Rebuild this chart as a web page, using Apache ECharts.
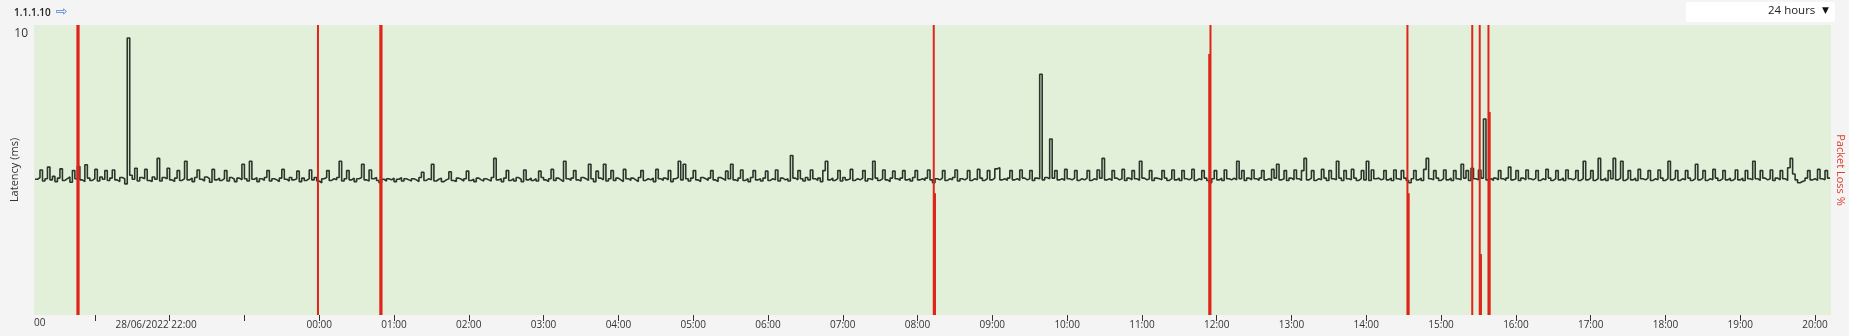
<!DOCTYPE html>
<html>
<head>
<meta charset="utf-8">
<script src="https://cdn.jsdelivr.net/npm/echarts@6/dist/echarts.min.js"></script>
<style>
html,body{margin:0;padding:0;background:#f4f4f4;}
#c{width:1849px;height:336px;}
</style>
</head>
<body>
<div id="c"></div>
<script>
// ---- data ----
const title = '1.1.1.10';
const rangeLabel = '24 hours';
const axisStart = '2022-06-28T20:12:00';
const axisEnd = '2022-06-29T20:12:00';
const sampleStepMinutes = 2;
// latency (ms), one value every 2 minutes from 28/06 20:12 (one row = one hour)
const latency = [
4.68,4.74,5.00,4.62,4.70,5.10,4.66,4.78,4.60,4.72,5.04,4.64,4.70,4.76,4.58,4.98,4.70,5.12,4.66,4.60,5.18,4.72,4.64,4.70,5.02,4.62,4.76,4.68,4.98,4.64,
4.72,5.00,4.66,4.60,4.74,4.70,4.52,9.55,4.82,4.68,5.06,4.62,4.74,4.70,5.02,4.64,4.60,4.76,4.68,5.40,4.62,4.74,4.70,5.06,4.66,4.60,4.72,4.98,4.64,4.70,
5.30,4.66,4.72,4.60,4.74,5.00,4.68,4.62,4.76,4.70,4.58,5.02,4.66,4.72,4.64,4.70,4.98,4.62,4.74,4.68,4.60,4.72,4.66,5.20,4.70,4.62,5.30,4.68,4.74,4.60,
4.70,4.64,4.74,4.98,4.62,4.70,4.66,4.60,4.72,5.02,4.68,4.62,4.74,4.66,4.70,4.96,4.60,4.72,4.64,4.70,5.00,4.66,4.74,4.62,4.56,4.70,4.74,4.98,4.64,4.70,
4.66,4.74,5.30,4.62,4.70,4.98,4.66,4.72,4.60,4.70,4.74,5.20,4.66,4.62,5.00,4.70,4.74,4.64,4.56,4.68,4.62,4.70,4.66,4.72,4.60,4.68,4.74,4.62,4.70,4.66,
4.62,4.70,4.66,4.60,4.74,4.92,4.64,4.70,4.66,5.20,4.62,4.68,4.72,4.60,4.66,4.70,4.94,4.64,4.60,4.72,4.68,4.62,4.70,4.96,4.64,4.68,4.60,4.72,4.66,4.62,
4.70,4.66,4.62,4.74,5.40,4.66,4.70,4.60,4.72,4.98,4.64,4.70,4.62,4.74,4.68,4.60,5.00,4.66,4.72,4.64,4.70,4.62,4.96,4.74,4.66,4.60,4.70,5.02,4.64,4.72,
4.66,4.60,5.30,4.70,4.64,4.72,4.98,4.66,4.62,4.74,4.70,4.64,5.20,4.70,4.60,4.96,4.72,4.66,5.20,4.62,4.70,4.98,4.64,4.72,4.66,4.60,5.02,4.70,4.64,4.72,
4.66,4.60,4.74,4.98,4.64,4.70,4.66,4.72,4.60,5.02,4.70,4.64,4.72,4.66,4.98,4.60,4.70,4.74,5.30,4.66,5.20,4.70,4.62,4.72,4.98,4.66,4.60,4.74,4.70,4.64,
4.72,4.98,4.66,4.60,4.74,4.70,4.64,4.96,4.70,5.20,4.66,4.62,4.72,5.00,4.64,4.70,4.60,4.74,4.98,4.66,4.70,4.62,4.72,4.96,4.64,4.70,4.66,5.00,4.62,4.72,
4.66,4.70,4.62,5.50,4.72,4.66,4.98,4.70,4.62,4.74,4.66,5.00,4.70,4.64,4.72,4.60,4.98,5.30,4.66,4.72,4.64,4.70,4.98,4.62,4.74,4.66,4.70,5.02,4.64,4.70,
4.66,4.72,4.98,4.62,4.70,4.66,5.30,4.72,4.64,4.70,5.00,4.66,4.60,4.72,4.96,4.70,4.64,4.72,4.98,4.66,4.70,4.62,4.74,4.98,4.66,4.70,4.64,4.72,5.00,4.66,
4.56,4.70,4.66,4.72,4.98,4.64,4.70,4.66,4.74,5.00,4.62,4.70,4.66,4.72,4.98,4.64,4.70,4.66,5.02,4.72,4.64,4.70,4.98,4.66,4.72,5.04,5.08,4.66,4.70,4.64,
4.72,4.98,4.66,4.70,4.64,5.00,4.72,4.66,4.70,4.98,4.64,4.72,4.70,8.30,4.66,4.74,4.70,6.07,4.72,4.98,4.66,4.70,4.64,5.02,4.70,4.66,4.72,4.98,4.64,4.70,
4.66,4.72,4.98,4.64,4.70,4.66,5.00,4.72,5.40,4.66,4.70,4.64,4.98,4.72,4.66,4.70,5.02,4.64,4.72,4.66,4.98,4.70,4.64,5.30,4.72,4.66,4.70,4.98,4.64,4.72,
4.70,4.66,4.98,4.72,4.64,4.70,5.00,4.66,4.72,4.64,4.98,4.70,4.66,4.72,5.02,4.64,4.70,4.66,4.98,4.72,4.64,4.56,4.70,4.98,4.66,4.72,4.64,5.00,4.70,4.66,
4.72,4.66,5.30,4.70,4.98,4.64,4.72,4.66,5.00,4.70,4.64,4.72,4.98,4.66,4.70,4.64,5.02,4.72,5.20,4.66,4.70,4.98,4.64,4.72,4.66,5.00,4.70,4.64,4.98,5.40,
4.66,4.72,4.98,4.64,4.70,4.66,5.02,4.72,4.64,4.98,4.70,4.66,5.30,4.72,4.64,4.98,4.70,4.66,5.02,4.72,4.64,4.70,4.98,4.66,5.30,4.64,5.00,4.70,4.72,4.66,
4.70,4.98,4.66,4.72,4.64,5.00,4.70,4.66,4.98,4.72,4.64,4.56,4.70,4.98,4.66,4.72,4.64,5.02,5.40,4.70,4.66,4.98,4.72,4.64,4.70,5.00,4.66,4.72,4.64,4.98,
4.70,4.66,5.20,4.72,4.98,4.64,5.06,4.70,4.66,5.00,4.72,6.76,4.66,4.70,4.64,4.72,4.66,4.98,4.70,4.64,4.72,5.10,4.66,4.70,4.98,4.64,4.72,4.66,5.00,4.70,
4.66,4.72,4.98,4.64,4.70,4.66,5.02,4.72,4.64,4.70,4.98,4.66,4.72,4.64,5.00,4.70,4.66,4.72,4.98,4.64,4.70,5.30,4.66,4.72,4.98,4.64,4.70,5.40,4.66,4.72,
4.64,4.98,4.70,5.40,4.66,4.72,5.30,4.64,4.70,4.98,4.66,4.72,4.64,5.02,4.70,4.66,4.72,4.98,4.64,4.70,4.66,5.00,4.72,4.64,4.70,5.30,4.66,4.72,4.98,4.64,
4.70,4.66,4.98,4.72,4.64,4.70,5.20,4.66,4.72,4.98,4.64,4.70,4.66,5.02,4.72,4.64,4.70,4.98,4.66,4.72,4.64,4.70,5.00,4.66,4.72,4.64,4.98,4.70,4.66,5.30,
4.70,4.64,4.98,4.72,4.66,4.70,5.00,4.64,4.72,4.66,4.98,4.70,4.64,5.08,5.40,4.86,4.66,4.56,4.60,4.64,4.72,4.98,4.66,4.70,4.64,5.02,4.70,4.66,4.98,4.72,
4.70
];
// packet loss events
const lossTimes = [
'2022-06-28T20:46:00','2022-06-28T20:47:00',
'2022-06-28T23:59:00',
'2022-06-29T00:49:00','2022-06-29T00:50:00',
'2022-06-29T08:13:00','2022-06-29T08:14:00',
'2022-06-29T11:54:00','2022-06-29T11:55:00',
'2022-06-29T14:33:00','2022-06-29T14:34:00',
'2022-06-29T15:25:00',
'2022-06-29T15:31:00','2022-06-29T15:32:00',
'2022-06-29T15:38:00','2022-06-29T15:39:00'
];
const lossValues = [100,100,100,100,100,100,42,90,100,100,42,100,100,21,100,70];
const latencyMax = 10;
const lossMax = 100;

// ---- build ----
const t0 = new Date(axisStart).getTime();
const latencyData = latency.map((v, i) => [t0 + i * sampleStepMinutes * 60000, v]);
const lossData = lossTimes.map((t, i) => [new Date(t).getTime(), lossValues[i]]);
const pad = n => (n < 10 ? '0' : '') + n;

const chart = echarts.init(document.getElementById('c'));
const FONT = '"Open Sans", "Noto Sans", sans-serif';
chart.setOption({
  animation: false,
  backgroundColor: '#f4f4f4',
  textStyle: { fontFamily: FONT },
  grid: {
    left: 34, right: 18, top: 25, bottom: 21, show: true, backgroundColor: '#e2efd9', borderWidth: 0,
    containLabel: false, outerBoundsMode: 'none'
  },
  xAxis: {
    type: 'time',
    min: new Date(axisStart).getTime(),
    max: new Date(axisEnd).getTime(),
    minInterval: 3600000,
    maxInterval: 3600000,
    axisLine: { show: false },
    axisTick: { show: true, length: 6, lineStyle: { color: '#333', width: 1 } },
    splitLine: { show: false },
    axisLabel: {
      color: '#333', fontSize: 10, margin: 5, hideOverlap: false,
      rich: { d: { fontSize: 10, color: '#333', padding: [0, 27, 0, 0] } },
      formatter: function (value) {
        const d = new Date(value);
        if (d.getMinutes() !== 0) return '';
        const h = d.getHours();
        if (d.getDate() === 28 && h === 22) return '{d|28/06/2022 22:00}';
        if (d.getDate() === 28 && h !== 22) return '';
        return pad(h) + ':00';
      }
    }
  },
  yAxis: [
    {
      type: 'value', min: 0, max: latencyMax, interval: latencyMax,
      name: 'Latency (ms)', nameLocation: 'middle', nameGap: 19, nameMoveOverlap: false,
      nameTextStyle: { color: '#333', fontSize: 11, verticalAlign: 'middle', align: 'center' },
      axisLine: { show: false }, axisTick: { show: false }, splitLine: { show: false },
      axisLabel: {
        color: '#333', fontSize: 12, margin: 6, verticalAlign: 'top', padding: [3, 0, 0, 0],
        formatter: v => (v === latencyMax ? String(v) : '')
      }
    },
    {
      type: 'value', min: 0, max: lossMax, position: 'right',
      name: 'Packet Loss %', nameLocation: 'middle', nameGap: 9, nameRotate: -90, nameMoveOverlap: false,
      nameTextStyle: { color: '#e0402a', fontSize: 11, verticalAlign: 'middle', align: 'center' },
      axisLine: { show: false }, axisTick: { show: false }, splitLine: { show: false },
      axisLabel: { show: false }
    }
  ],
  series: [
    {
      type: 'line', yAxisIndex: 0, data: latencyData, showSymbol: false, step: 'end',
      lineStyle: { color: '#2b362b', width: 1.6 }, z: 2
    },
    {
      type: 'bar', yAxisIndex: 1, data: lossData, barWidth: 2,
      itemStyle: { color: '#e0241b' }, z: 3
    }
  ],
  graphic: [
    { type: 'text', left: 14, top: 8, style: { text: title, fontSize: 10, fontWeight: 600, fill: '#222', fontFamily: FONT } },
    { type: 'text', left: 56, top: 5, style: { text: '⇨', fontSize: 14, fill: '#4a7fd0', fontFamily: 'DejaVu Sans' } },
    { type: 'rect', shape: { x: 1686, y: 2, width: 149, height: 20, r: 3 }, style: { fill: '#ffffff' } },
    { type: 'text', left: 1768, top: 5, style: { text: rangeLabel, fontSize: 11.5, fill: '#222', fontFamily: FONT } },
    { type: 'text', left: 1822, top: 6, style: { text: '▼', fontSize: 9, fill: '#111', fontFamily: 'DejaVu Sans' } },
    { type: 'text', left: 34, top: 318, style: { text: '00', fontSize: 10, fill: '#333', fontFamily: FONT } }
  ]
});
</script>
</body>
</html>
